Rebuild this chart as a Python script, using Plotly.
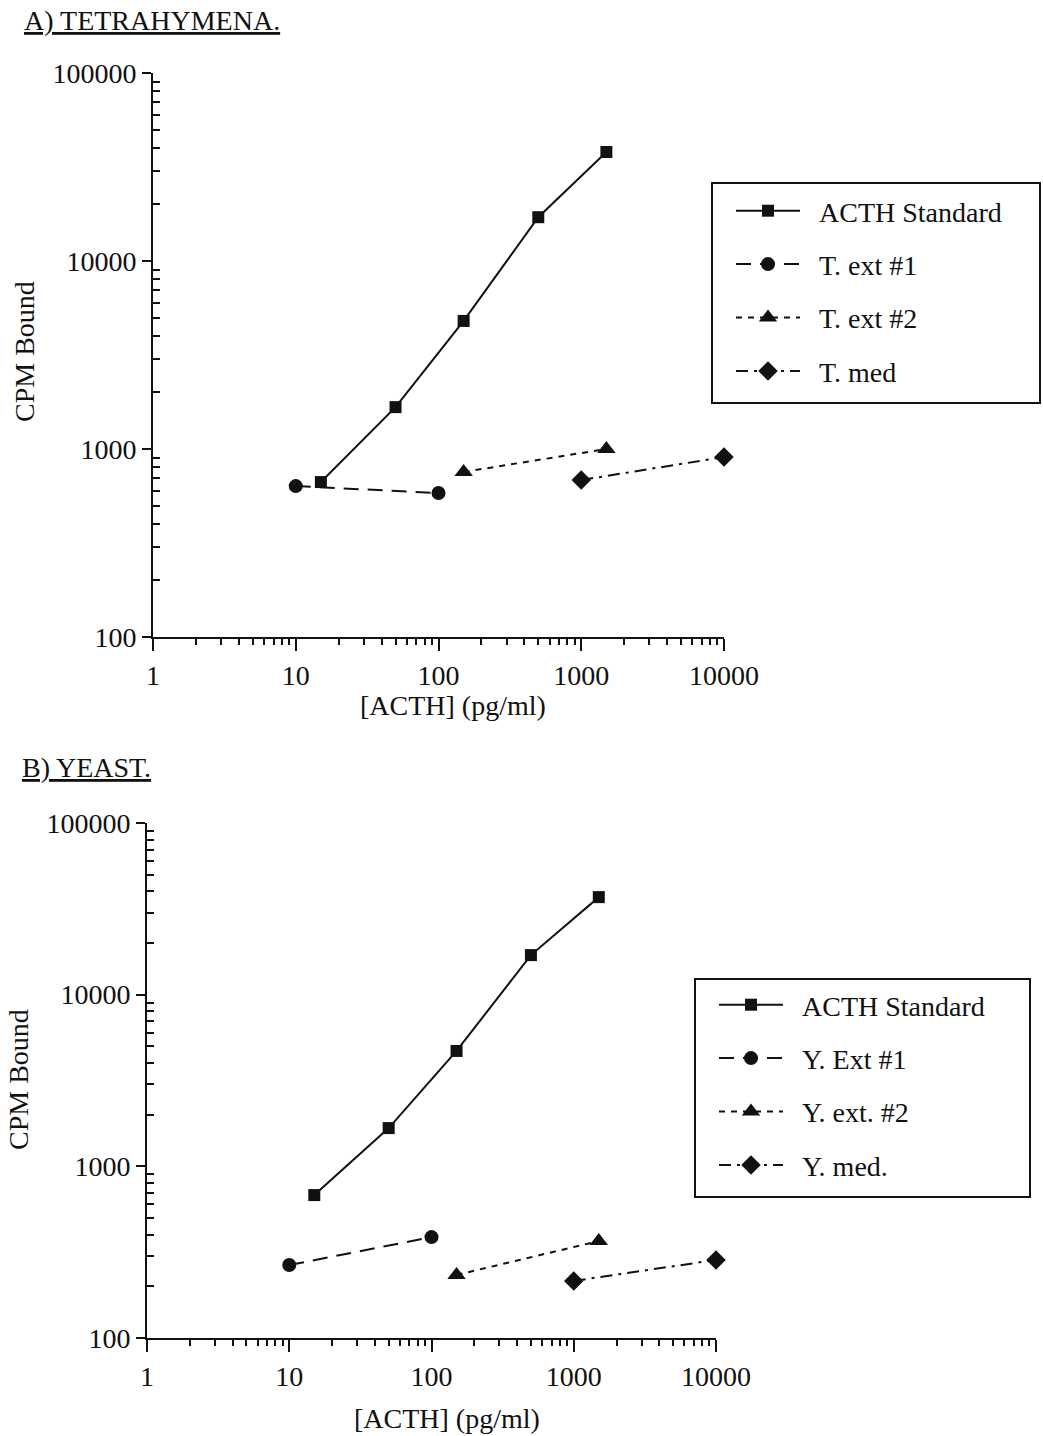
import plotly.graph_objects as go

# ---- data: ACTH radioimmunoassay, CPM bound vs [ACTH] ----
std_x = [15, 50, 150, 500, 1500]
std_a = [667, 1670, 4800, 17100, 38000]
std_b = [680, 1670, 4700, 17000, 37000]

t_ext1_x = [10, 100]
t_ext1_y = [635, 583]
t_ext2_x = [150, 1500]
t_ext2_y = [755, 1000]
t_med_x = [1000, 10000]
t_med_y = [684, 906]

y_ext1_x = [10, 100]
y_ext1_y = [266, 387]
y_ext2_x = [150, 1500]
y_ext2_y = [233, 367]
y_med_x = [1000, 10000]
y_med_y = [215, 285]

x_ticks = [1, 10, 100, 1000, 10000]
x_ticktext = ["1", "10", "100", "1000", "10000"]
y_ticks = [100, 1000, 10000, 100000]
y_ticktext = ["100", "1000", "10000", "100000"]

# minor log ticks (2..9 within each decade)
x_minor = [k * 10 ** e for e in range(0, 4) for k in range(2, 10)]
y_minor = [k * 10 ** e for e in range(2, 5) for k in range(2, 10)]

INK = "#111111"
FONT = "Liberation Serif"
W, H = 1043, 1436
FS = 28
PAD = "\u00a0\u00a0"

fig = go.Figure()

def add_series(x, y, name, symbol, size, dash, xa, ya, legend, group):
    fig.add_trace(go.Scatter(
        x=x, y=y, name=PAD + name, mode="lines+markers",
        line=dict(color=INK, width=2, dash=dash),
        marker=dict(symbol=symbol, size=size, color=INK),
        xaxis=xa, yaxis=ya, legend=legend, legendgroup=group,
        cliponaxis=False, showlegend=True,
    ))

# panel A
add_series(std_x, std_a, "ACTH Standard", "square", 12, "solid", "x", "y", "legend", "a1")
add_series(t_ext1_x, t_ext1_y, "T. ext #1", "circle", 14, "15px,9px", "x", "y", "legend", "a2")
add_series(t_ext2_x, t_ext2_y, "T. ext #2", "triangle-up", 16, "6px,6px", "x", "y", "legend", "a3")
add_series(t_med_x, t_med_y, "T. med", "diamond", 15, "12px,6px,3px,6px", "x", "y", "legend", "a4")

# panel B
add_series(std_x, std_b, "ACTH Standard", "square", 12, "solid", "x2", "y2", "legend2", "b1")
add_series(y_ext1_x, y_ext1_y, "Y. Ext #1", "circle", 14, "15px,9px", "x2", "y2", "legend2", "b2")
add_series(y_ext2_x, y_ext2_y, "Y. ext. #2", "triangle-up", 16, "6px,6px", "x2", "y2", "legend2", "b3")
add_series(y_med_x, y_med_y, "Y. med.", "diamond", 15, "12px,6px,3px,6px", "x2", "y2", "legend2", "b4")

def xaxis(domain, anchor):
    return dict(
        type="log", range=[0, 4], domain=domain, anchor=anchor, automargin=False,
        showline=True, linecolor=INK, linewidth=2, mirror=False,
        showgrid=False, zeroline=False,
        tickvals=x_ticks, ticktext=x_ticktext,
        ticks="outside", ticklen=12, tickwidth=2, tickcolor=INK,
        minor=dict(tickvals=x_minor, ticks="outside", ticklen=6, tickwidth=1.5,
                   tickcolor=INK, showgrid=False),
        tickfont=dict(family=FONT, size=FS, color=INK),
    )

def yaxis(domain, anchor):
    return dict(
        type="log", range=[2, 5], domain=domain, anchor=anchor, automargin=False,
        showline=True, linecolor=INK, linewidth=2, mirror=False,
        showgrid=False, zeroline=False,
        tickvals=y_ticks, ticktext=y_ticktext,
        ticks="outside", ticklen=9, tickwidth=2, tickcolor=INK,
        minor=dict(tickvals=y_minor, ticks="inside", ticklen=7, tickwidth=1.5,
                   tickcolor=INK, showgrid=False),
        tickfont=dict(family=FONT, size=FS, color=INK),
    )

legend_style = dict(
    bgcolor="rgba(0,0,0,0)", borderwidth=0,
    font=dict(family=FONT, size=FS, color=INK),
    xanchor="left", yanchor="top", tracegroupgap=14, itemwidth=64,
)

def label(text, x, y, size=FS, angle=0, anchor="center"):
    return dict(text=text, x=x / W, y=1 - y / H, xref="paper", yref="paper",
                xanchor=anchor, yanchor="middle", showarrow=False, textangle=angle,
                font=dict(family=FONT, size=size, color=INK))

def box(x0, y0, x1, y1):
    return dict(type="rect", xref="paper", yref="paper",
                x0=x0 / W, x1=x1 / W, y0=1 - y1 / H, y1=1 - y0 / H,
                line=dict(color=INK, width=2), fillcolor="rgba(0,0,0,0)")

fig.update_layout(
    width=W, height=H, autosize=False,
    margin=dict(l=0, r=0, t=0, b=0),
    paper_bgcolor="white", plot_bgcolor="white",
    font=dict(family=FONT, color=INK),
    xaxis=xaxis([153 / W, 724 / W], "y"),
    yaxis=yaxis([1 - 637 / H, 1 - 73 / H], "x"),
    xaxis2=xaxis([147 / W, 716 / W], "y2"),
    yaxis2=yaxis([1 - 1338 / H, 1 - 823 / H], "x2"),
    legend=dict(x=731 / W, y=1 - 186 / H, **legend_style),
    legend2=dict(x=714 / W, y=1 - 980 / H, **legend_style),
    shapes=[box(712, 183, 1040, 403), box(695, 979, 1030, 1197)],
    annotations=[
        label("<u>A) TETRAHYMENA.</u>", 22, 20, anchor="left"),
        label("<u>B) YEAST.</u>", 20, 767, anchor="left"),
        label("[ACTH] (pg/ml)", 453, 705),
        label("[ACTH] (pg/ml)", 447, 1418),
        label("CPM Bound", 25, 352, angle=-90),
        label("CPM Bound", 18, 1080, angle=-90),
    ],
)

fig.write_html("out.html")
